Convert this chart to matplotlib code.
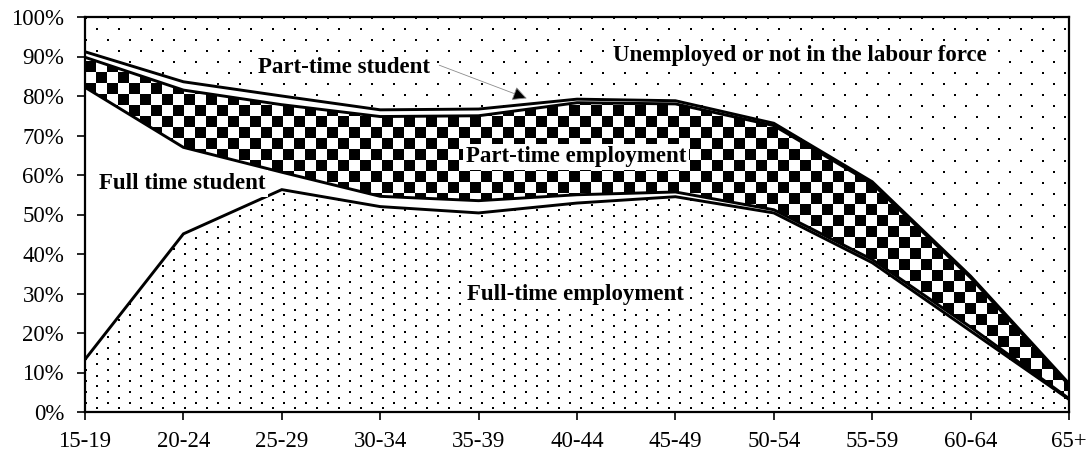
import numpy as np
import matplotlib
matplotlib.use("Agg")
import matplotlib.pyplot as plt

plt.rcParams["font.family"] = ["Liberation Serif", "DejaVu Serif"]

# age groups and shares (%) of each activity
ages = ["15-19", "20-24", "25-29", "30-34", "35-39", "40-44", "45-49", "50-54", "55-59", "60-64", "65+"]
ft_employment = [13.3, 45.1, 56.3, 52.0, 50.4, 52.9, 54.5, 50.4, 37.8, 20.5, 3.2]
ft_student = [68.9, 21.9, 4.4, 2.6, 3.1, 2.1, 1.2, 0.8, 0.8, 1.0, 0.2]
pt_employment = [7.6, 14.5, 17.1, 20.2, 21.5, 23.3, 22.3, 21.3, 19.2, 12.5, 3.4]
pt_student = [1.4, 2.1, 2.2, 1.7, 1.7, 0.9, 0.8, 0.6, 0.5, 0.4, 0.4]

W, H, DPI = 1087, 454, 100
fig = plt.figure(figsize=(W / DPI, H / DPI), dpi=DPI)
L, R, B, T = 85, 1069, 412, 17          # axes box in pixels (integer so textures map 1:1)
ax = fig.add_axes([L / W, (H - B) / H, (R - L) / W, (B - T) / H])

x = np.arange(len(ages))
c1 = np.array(ft_employment)
c2 = c1 + np.array(ft_student)
c3 = c2 + np.array(pt_employment)
c4 = c3 + np.array(pt_student)
top = np.full(len(ages), 100.0)

# pixel textures for the patterned areas
pw, ph = R - L, B - T
yy, xx = np.mgrid[0:ph, 0:pw]


def dots(dx, dy):
    img = np.ones((ph, pw))
    for j in range(int(ph / dy) + 2):
        r = int(round(j * dy))
        off = 0 if j % 2 == 0 else dx // 2
        for c in range(off, pw, dx):
            img[r:r + 2, c:c + 2] = 0
    return img


checker = (((yy // 11) + (xx // 11)) % 2).astype(float)
textures = {
    "fte": dots(22, 5.5),
    "pte": checker,
    "une": dots(22, 11),
}


def band(lo, hi, tex=None):
    poly = ax.fill_between(x, lo, hi, color="white", lw=0, zorder=1)
    if tex is not None:
        im = ax.imshow(textures[tex], cmap="gray", vmin=0, vmax=1, extent=[0, 1, 0, 1],
                       transform=ax.transAxes, interpolation="nearest", resample=False,
                       aspect="auto", zorder=2)
        im.set_clip_path(poly.get_paths()[0], ax.transData)


band(0, c1, "fte")
band(c1, c2)
band(c2, c3, "pte")
band(c3, c4)
band(c4, top, "une")

for c in (c1, c2, c3, c4):
    ax.plot(x, c, color="black", lw=2.1, zorder=3, solid_joinstyle="miter")

ax.set_xlim(0, len(ages) - 1)
ax.set_ylim(0, 100)
ax.set_xticks(x)
ax.set_xticklabels(ages)
ax.set_yticks(np.arange(0, 101, 10))
ax.set_yticklabels([f"{v}%" for v in range(0, 101, 10)])
ax.tick_params(axis="both", direction="out", length=6, width=1.2, labelsize=16.5, colors="black")
ax.tick_params(axis="x", pad=8)
ax.tick_params(axis="y", pad=9)
for s in ax.spines.values():
    s.set_linewidth(1.6)
    s.set_zorder(5)

box = dict(facecolor="white", edgecolor="none", pad=2)
lab = dict(fontsize=16.5, fontweight="bold", ha="center", va="center", zorder=6, bbox=box)
ax.text(2.63, 87.1, "Part-time student", **lab)
ax.text(7.27, 90.3, "Unemployed or not in the labour force", **lab)
ax.text(4.99, 64.6, "Part-time employment", **lab)
ax.text(0.99, 57.8, "Full time student", **lab)
ax.text(4.98, 29.7, "Full-time employment", **lab)

ax.annotate("", xy=(4.49, 79.4), xytext=(3.6, 87.8),
            arrowprops=dict(arrowstyle="-|>", lw=0.6, ec="0.55", fc="black",
                            mutation_scale=22, shrinkA=0, shrinkB=0), zorder=7)

fig.savefig("out.png", dpi=DPI)
